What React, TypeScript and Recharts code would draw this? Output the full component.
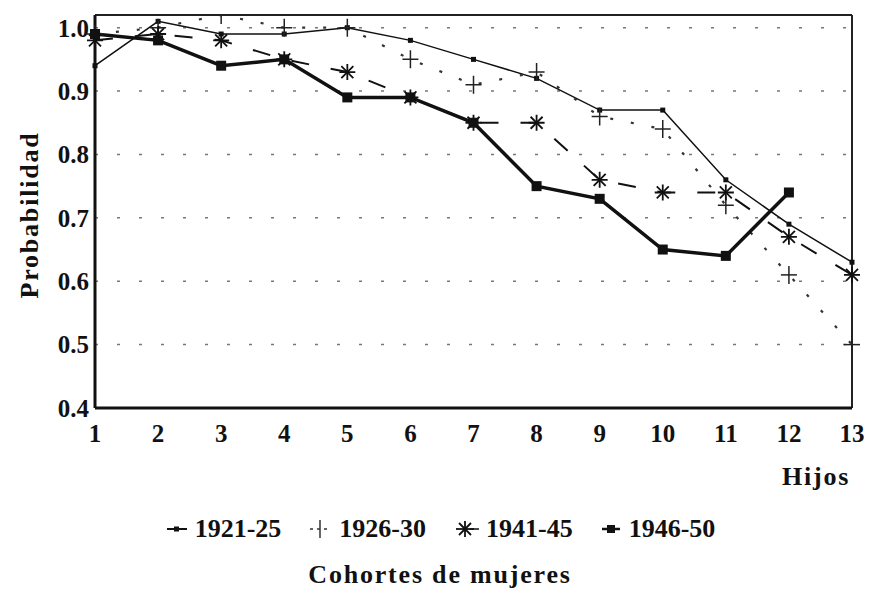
import { LineChart, Line, XAxis, YAxis, CartesianGrid, ReferenceLine } from 'recharts';

const hijos = [1, 2, 3, 4, 5, 6, 7, 8, 9, 10, 11, 12, 13];
const c1921 = [0.94, 1.01, 0.99, 0.99, 1.0, 0.98, 0.95, 0.92, 0.87, 0.87, 0.76, 0.69, 0.63];
const c1926 = [0.99, 1.0, 1.02, 1.0, 1.0, 0.95, 0.91, 0.93, 0.86, 0.84, 0.72, 0.61, 0.5];
const c1941 = [0.98, 0.99, 0.98, 0.95, 0.93, 0.89, 0.85, 0.85, 0.76, 0.74, 0.74, 0.67, 0.61];
const c1946 = [0.99, 0.98, 0.94, 0.95, 0.89, 0.89, 0.85, 0.75, 0.73, 0.65, 0.64, 0.74, null];
const yTicks = [0.4, 0.5, 0.6, 0.7, 0.8, 0.9, 1.0];

const data = hijos.map((h, i) => ({ h, a: c1921[i], b: c1926[i], c: c1941[i], d: c1946[i] }));

const font = '"Liberation Serif", "DejaVu Serif", serif';
const tickStyle = { fill: '#111', fontSize: 25, fontFamily: font, fontWeight: 700 };
const wordStyle = { fontFamily: font, fontWeight: 700, fontSize: 26, color: '#111', letterSpacing: 1.8 };

function SmallSquare({ cx, cy }: any) {
    if (cx == null || cy == null) return null;
    return <rect x={cx - 2.5} y={cy - 2.5} width={5} height={5} fill="#111" />;
}
function Plus({ cx, cy }: any) {
    if (cx == null || cy == null) return null;
    return (
        <g stroke="#222" strokeWidth={1.5}>
            <line x1={cx - 8} y1={cy} x2={cx + 8} y2={cy} />
            <line x1={cx} y1={cy - 9} x2={cx} y2={cy + 9} />
        </g>
    );
}
function Star({ cx, cy }: any) {
    if (cx == null || cy == null) return null;
    return (
        <g stroke="#111" strokeWidth={1.8}>
            <line x1={cx - 8} y1={cy} x2={cx + 8} y2={cy} />
            <line x1={cx} y1={cy - 8} x2={cx} y2={cy + 8} />
            <line x1={cx - 6} y1={cy - 6} x2={cx + 6} y2={cy + 6} />
            <line x1={cx - 6} y1={cy + 6} x2={cx + 6} y2={cy - 6} />
        </g>
    );
}
function BigSquare({ cx, cy }: any) {
    if (cx == null || cy == null) return null;
    return <rect x={cx - 5} y={cy - 5} width={10} height={10} fill="#111" />;
}

export default function App() {
    return (
        <div style={{ position: 'absolute', left: 0, top: 0, width: 880, height: 592, background: '#fff' }}>
            <LineChart width={880} height={592} data={data} margin={{ top: 15, right: 28, left: 35, bottom: 144 }}>
                <CartesianGrid vertical={false} stroke="#777" strokeDasharray="3 19" strokeWidth={1.5} />
                <XAxis
                    dataKey="h"
                    type="number"
                    domain={[1, 13]}
                    ticks={hijos}
                    tick={tickStyle}
                    tickLine={false}
                    axisLine={{ stroke: '#111', strokeWidth: 3 }}
                    height={40}
                    dy={8}
                />
                <YAxis
                    type="number"
                    domain={[0.4, 1.02]}
                    ticks={yTicks}
                    allowDataOverflow
                    tickFormatter={(v: number) => v.toFixed(1)}
                    tick={tickStyle}
                    tickLine={false}
                    axisLine={{ stroke: '#111', strokeWidth: 3 }}
                    width={60}
                    dx={2}
                />
                <ReferenceLine y={1.02} stroke="#222" strokeWidth={2} />
                <ReferenceLine x={13} stroke="#222" strokeWidth={2} />
                <Line dataKey="a" stroke="#111" strokeWidth={1.5} dot={<SmallSquare />} activeDot={false} isAnimationActive={false} />
                <Line dataKey="b" stroke="#333" strokeWidth={2.2} strokeDasharray="3 18" dot={<Plus />} activeDot={false} isAnimationActive={false} />
                <Line dataKey="c" stroke="#111" strokeWidth={2} strokeDasharray="18 22" dot={<Star />} activeDot={false} isAnimationActive={false} />
                <Line dataKey="d" stroke="#111" strokeWidth={3.5} dot={<BigSquare />} activeDot={false} isAnimationActive={false} />
            </LineChart>
            <div style={{ ...wordStyle, position: 'absolute', left: 30, top: 215, transform: 'translate(-50%, -50%) rotate(-90deg)', whiteSpace: 'nowrap' }}>Probabilidad</div>
            <div style={{ ...wordStyle, position: 'absolute', left: 782, top: 462 }}>Hijos</div>
            <div style={{ position: 'absolute', left: 0, width: 880, top: 514, display: 'flex', justifyContent: 'center', gap: 26, fontFamily: font, fontWeight: 700, fontSize: 26, color: '#111', alignItems: 'center' }}>
                <span style={{ display: 'flex', alignItems: 'center', gap: 6 }}>
                    <svg width={24} height={20}><line x1={2} y1={10} x2={22} y2={10} stroke="#111" strokeWidth={2} /><rect x={9} y={7.5} width={5} height={5} fill="#111" /></svg>
                    1921-25
                </span>
                <span style={{ display: 'flex', alignItems: 'center', gap: 6 }}>
                    <svg width={26} height={22}><line x1={3} y1={11} x2={23} y2={11} stroke="#333" strokeWidth={1.5} strokeDasharray="3 4" /><line x1={13} y1={2} x2={13} y2={20} stroke="#333" strokeWidth={1.5} /></svg>
                    1926-30
                </span>
                <span style={{ display: 'flex', alignItems: 'center', gap: 6 }}>
                    <svg width={28} height={22}><line x1={18} y1={11} x2={27} y2={11} stroke="#111" strokeWidth={1.5} /><g stroke="#111" strokeWidth={1.8}><line x1={4} y1={11} x2={22} y2={11} /><line x1={13} y1={3} x2={13} y2={19} /><line x1={7} y1={5} x2={19} y2={17} /><line x1={7} y1={17} x2={19} y2={5} /></g></svg>
                    1941-45
                </span>
                <span style={{ display: 'flex', alignItems: 'center', gap: 6 }}>
                    <svg width={24} height={20}><line x1={3} y1={10} x2={21} y2={10} stroke="#111" strokeWidth={2.5} /><rect x={8} y={6} width={8} height={8} fill="#111" /></svg>
                    1946-50
                </span>
            </div>
            <div style={{ ...wordStyle, position: 'absolute', left: 0, width: 880, top: 560, textAlign: 'center' }}>Cohortes de mujeres</div>
        </div>
    );
}
